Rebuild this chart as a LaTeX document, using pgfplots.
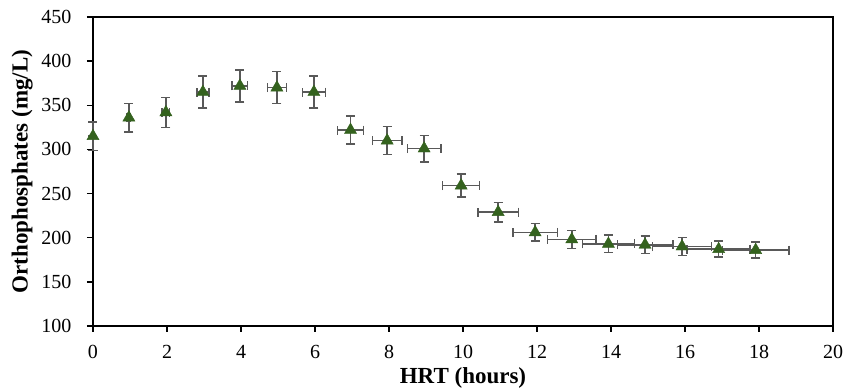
\documentclass[border=0pt]{standalone}
\usepackage{fontspec}
\setmainfont{Liberation Serif}
\usepackage{pgfplots}
\pgfplotsset{compat=1.18}
\definecolor{mkgreen}{RGB}{52,98,30}
\definecolor{errgray}{RGB}{89,89,89}
\begin{document}
\begin{tikzpicture}
\path[use as bounding box] (-93bp,-63bp) rectangle (768bp,326bp);
\begin{axis}[
  at={(0,0)}, anchor=south west,
  width=740bp, height=309bp, scale only axis,
  xmin=0, xmax=20, ymin=100, ymax=450,
  xtick={0,2,...,20}, ytick={100,150,...,450},
  axis line style={line width=1.6bp, black},
  tick style={line width=1.4bp, black},
  tick align=outside, major tick length=6bp,
  xtick pos=bottom, ytick pos=left,
  /pgf/number format/assume math mode=true,
  ticklabel style={font=\fontsize{20bp}{22bp}\selectfont},
  xticklabel style={yshift=-10bp},
  yticklabel style={xshift=-12bp},
  xlabel={\bfseries HRT (hours)},
  ylabel={\bfseries Orthophosphates (mg/L)},
  label style={font=\fontsize{23bp}{25bp}\selectfont},
  xlabel style={yshift=-2bp},
  ylabel style={yshift=2bp},
  clip=false,
]
\addplot[only marks, mark=triangle*, mark size=7bp,
  mark options={fill=mkgreen, draw=mkgreen},
  error bars/.cd,
    x dir=both, x explicit, y dir=both, y explicit,
    error bar style={line width=1.5bp, errgray},
    error mark options={line width=1.5bp, errgray, mark size=4.5bp, rotate=90},
] table[x=x, y=y, x error=ex, y error=ey] {
x y ex ey
0.00 315 0.00 16
0.97 336 0.05 16
1.97 342 0.10 17
2.97 365 0.16 18
3.97 372 0.21 18
4.97 370 0.26 18
5.97 365 0.31 18
6.96 322 0.35 16
7.95 310 0.40 16
8.95 301 0.45 15
9.95 259 0.50 13
10.95 229 0.55 11
11.95 206 0.60 10
12.94 198 0.65 10
13.93 193 0.70 10
14.92 192 0.75 10
15.92 190 0.80 10
16.91 187 0.85 9
17.91 186 0.90 9
};
\end{axis}
\end{tikzpicture}
\end{document}
